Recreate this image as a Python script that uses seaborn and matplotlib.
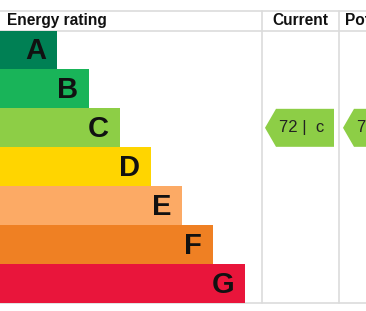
import matplotlib
matplotlib.use("Agg")
import matplotlib.pyplot as plt
import seaborn as sns
import pandas as pd
from matplotlib.patches import Polygon

# ---- data ----
ratings = ["A", "B", "C", "D", "E", "F", "G"]
bar_lengths = [57, 89, 120, 151, 182, 213, 245]
colors = ["#008054", "#19b459", "#8dce46", "#ffd500", "#fcaa65", "#ef8023", "#e9153b"]
headers = ["Energy rating", "Current", "Potential"]
current_value, current_band = 72, "C"
potential_value, potential_band = 76, "C"

W, H = 366, 311
sns.set_theme(style="white")
plt.rcParams['font.family'] = ['Liberation Sans', 'DejaVu Sans']

fig = plt.figure(figsize=(W / 100, H / 100), dpi=100)
ax = fig.add_axes([0, 0, 1, 1])
ax.set_xlim(0, W)
ax.set_ylim(H, 0)
ax.axis("off")

# table grid
top, head_bot, bot = 10.5, 30.5, 303
col1, col2 = 261.5, 339
gc = "#dcdcdc"
for y in (top, head_bot, bot):
    ax.plot([0, W], [y, y], color=gc, lw=1.2)
for x in (col1, col2):
    ax.plot([x, x], [top, bot], color=gc, lw=1.2)

# headers
ax.text(7, 20.5, headers[0], fontsize=11.2, fontweight="bold", va="center", ha="left", color="#111")
ax.text(300, 20.5, headers[1], fontsize=11.2, fontweight="bold", va="center", ha="center", color="#111")
ax.text(345, 20.5, headers[2], fontsize=11.2, fontweight="bold", va="center", ha="left", color="#111",
        clip_on=True)

# bars
bax = fig.add_axes([0, (H - bot) / H, 1, (bot - head_bot) / H])
df = pd.DataFrame({"rating": ratings, "length": bar_lengths})
sns.barplot(data=df, x="length", y="rating", hue="rating", palette=colors,
            width=1.0, legend=False, ax=bax, orient="h", saturation=1, linewidth=0)
bax.set_xlim(0, W)
bax.set_ylim(6.5, -0.5)
bax.axis("off")
for i, (r, L) in enumerate(zip(ratings, bar_lengths)):
    bax.text(L - 11, i + 0.03, r, fontsize=21, fontweight="bold", ha="right", va="center", color="#111")

# arrows
band_idx = ratings.index(current_band)
yc = head_bot + (band_idx + 0.5) * (bot - head_bot) / 7
def arrow(x_tip, x_body, x_right, val, band, col):
    h = 19
    poly = Polygon([[x_tip, yc], [x_body, yc - h], [x_right, yc - h], [x_right, yc + h], [x_body, yc + h]],
                   closed=True, facecolor=col, edgecolor="none")
    ax.add_patch(poly)
    ax.text((x_body + x_right) / 2 - 3, yc, f"{val} |  {band.lower()}", fontsize=12, ha="center",
            va="center", color="#222", clip_on=True)

arrow(265, 276, 334, current_value, current_band, colors[band_idx])
arrow(343, 354, 412, potential_value, potential_band, colors[ratings.index(potential_band)])

fig.savefig("out.png", dpi=100)
